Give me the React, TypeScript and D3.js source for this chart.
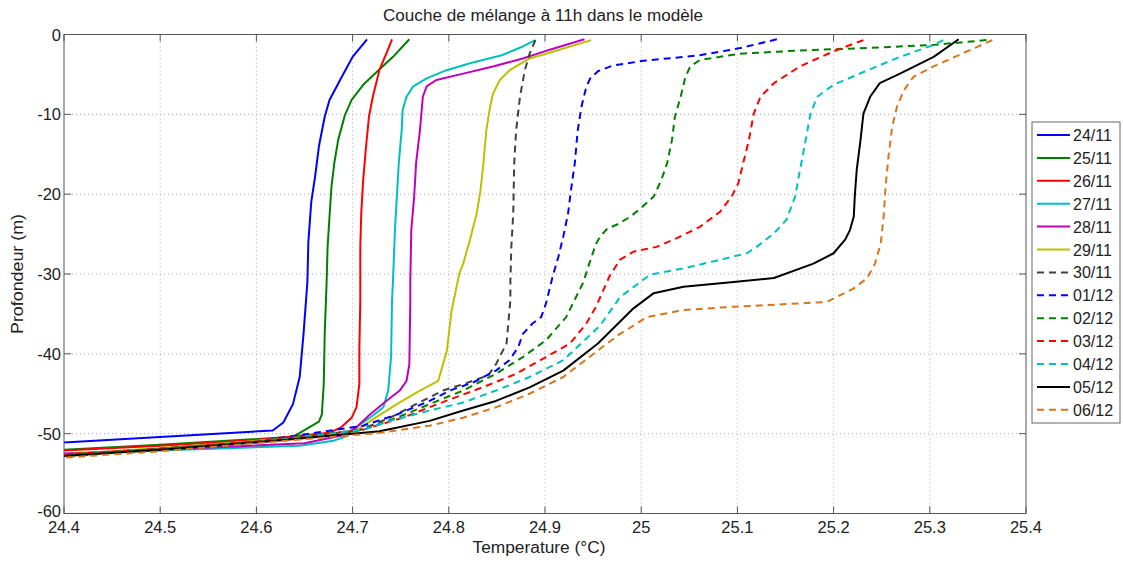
import React from "react";
import * as d3 from "d3";

const xTicks = [24.4, 24.5, 24.6, 24.7, 24.8, 24.9, 25, 25.1, 25.2, 25.3, 25.4];
const yTicks = [0, -10, -20, -30, -40, -50, -60];

const s2411 = [[24.715,-0.6],[24.700,-2.8],[24.687,-5.7],[24.676,-8.2],[24.671,-10.3],[24.665,-14],[24.661,-17.8],[24.657,-21],[24.654,-26],[24.653,-31],[24.649,-37.5],[24.645,-42.9],[24.638,-46.3],[24.628,-48.6],[24.617,-49.6],[24.4,-51.1]];
const s2511 = [[24.759,-0.6],[24.742,-2.8],[24.725,-4.7],[24.711,-6.3],[24.699,-8.2],[24.692,-10.1],[24.685,-13.2],[24.681,-16.1],[24.678,-19.1],[24.676,-22.8],[24.674,-26.6],[24.673,-31],[24.671,-37.5],[24.670,-43.8],[24.668,-47.6],[24.665,-48.5],[24.638,-50.4],[24.5,-51.4],[24.4,-52.0]];
const s2611 = [[24.741,-0.6],[24.735,-2.4],[24.728,-4.4],[24.721,-7.8],[24.717,-10.3],[24.714,-14],[24.711,-18.2],[24.709,-22.4],[24.708,-26.6],[24.708,-33.3],[24.707,-39.6],[24.707,-43.8],[24.704,-46.7],[24.699,-48],[24.688,-49.2],[24.676,-49.9],[24.6,-50.8],[24.5,-51.5],[24.4,-52.1]];
const s2711 = [[24.890,-0.7],[24.877,-1.5],[24.855,-2.6],[24.822,-3.6],[24.797,-4.5],[24.777,-5.5],[24.763,-6.5],[24.756,-7.8],[24.752,-9.5],[24.751,-12],[24.748,-16.1],[24.746,-20.3],[24.744,-24.5],[24.742,-30.8],[24.741,-33.3],[24.740,-40.4],[24.737,-44.6],[24.732,-46.7],[24.718,-48],[24.706,-49],[24.694,-50.3],[24.680,-50.9],[24.645,-51.5],[24.5,-52.1],[24.4,-52.6]];
const s2811 = [[24.941,-0.6],[24.905,-1.9],[24.877,-3],[24.846,-4],[24.815,-4.9],[24.787,-5.7],[24.777,-6.5],[24.773,-7.8],[24.770,-12],[24.766,-16.1],[24.764,-20.3],[24.761,-24.5],[24.760,-30.8],[24.760,-33.3],[24.759,-41.3],[24.756,-43.4],[24.749,-44.6],[24.735,-45.9],[24.718,-47.6],[24.704,-49.2],[24.690,-50.2],[24.65,-51.2],[24.5,-52.0],[24.4,-52.5]];
const s2911 = [[24.948,-0.7],[24.915,-1.9],[24.884,-3],[24.863,-4.5],[24.853,-5.7],[24.846,-7.4],[24.843,-9],[24.839,-12],[24.836,-16.1],[24.833,-19.5],[24.829,-22.4],[24.822,-25.7],[24.815,-28.7],[24.811,-29.9],[24.803,-34.5],[24.798,-39.6],[24.789,-43.4],[24.770,-44.6],[24.746,-46.3],[24.721,-48.2],[24.700,-49.9],[24.6,-50.9],[24.5,-51.8],[24.4,-52.6]];
const s3011 = [[24.890,-0.7],[24.884,-2.4],[24.879,-4.5],[24.874,-7.8],[24.870,-12],[24.868,-16.1],[24.867,-22.4],[24.865,-26.6],[24.864,-31],[24.864,-33.3],[24.860,-38.7],[24.849,-41.3],[24.841,-42.7],[24.815,-43.8],[24.794,-44.6],[24.766,-46.3],[24.739,-48],[24.704,-49.7],[24.6,-51.0],[24.5,-52.0],[24.4,-52.8]];
const s0112 = [[25.141,-0.6],[25.103,-1.7],[25.061,-2.6],[25.002,-3.3],[24.970,-3.9],[24.955,-4.6],[24.947,-5.5],[24.943,-6.5],[24.938,-9],[24.934,-12],[24.931,-16.1],[24.927,-19.5],[24.924,-22.4],[24.919,-25.3],[24.914,-27.8],[24.908,-30.3],[24.901,-33.7],[24.896,-35.4],[24.887,-36.2],[24.877,-37.5],[24.872,-39.2],[24.863,-40.8],[24.849,-42.1],[24.825,-43.6],[24.801,-44.6],[24.780,-45.9],[24.746,-47.6],[24.711,-49],[24.6,-51.0],[24.5,-51.9],[24.4,-52.7]];
const s0212 = [[25.359,-0.7],[25.304,-1.3],[25.235,-1.7],[25.165,-2.0],[25.103,-2.4],[25.061,-3.2],[25.051,-4.0],[25.046,-5.3],[25.041,-7.8],[25.035,-10.3],[25.032,-13.2],[25.027,-16.1],[25.021,-18.2],[25.013,-20.3],[25.001,-21.6],[24.989,-22.8],[24.975,-23.8],[24.965,-24.3],[24.958,-25.2],[24.953,-26.2],[24.946,-28.7],[24.940,-31],[24.922,-35.4],[24.901,-38.3],[24.877,-40.4],[24.849,-42.5],[24.815,-44.6],[24.780,-46.3],[24.746,-48],[24.711,-49.5],[24.6,-51.0],[24.5,-51.9],[24.4,-52.6]];
const s0312 = [[25.231,-0.7],[25.200,-2.1],[25.165,-4.0],[25.138,-6.1],[25.124,-7.8],[25.117,-9.9],[25.112,-13.2],[25.106,-16.1],[25.101,-18.6],[25.094,-20.3],[25.082,-22.2],[25.061,-24.1],[25.037,-25.5],[25.016,-26.6],[24.992,-27.2],[24.978,-28.2],[24.967,-30.3],[24.953,-34.1],[24.943,-36.2],[24.926,-38.7],[24.901,-40.4],[24.870,-42.5],[24.835,-44.2],[24.797,-45.9],[24.752,-48],[24.711,-49.5],[24.6,-51.0],[24.5,-51.9],[24.4,-52.6]];
const s0412 = [[25.314,-0.7],[25.304,-1.3],[25.269,-2.8],[25.235,-4.5],[25.200,-6.3],[25.183,-7.8],[25.176,-9.9],[25.171,-13.2],[25.165,-17],[25.160,-20.3],[25.151,-23.2],[25.138,-24.9],[25.120,-26.6],[25.110,-27.4],[25.079,-28.3],[25.044,-29.3],[25.009,-30.1],[24.978,-32.9],[24.957,-36.5],[24.919,-40.8],[24.884,-42.9],[24.849,-44.6],[24.815,-46.1],[24.780,-47.1],[24.739,-48.4],[24.711,-49.5],[24.6,-51.1],[24.5,-52.0],[24.4,-52.8]];
const s0512 = [[25.330,-0.6],[25.304,-2.8],[25.269,-4.9],[25.248,-6.1],[25.238,-7.8],[25.231,-9.9],[25.228,-13.2],[25.224,-17],[25.222,-20.3],[25.221,-22.8],[25.217,-24.5],[25.212,-25.7],[25.200,-27.4],[25.179,-28.7],[25.138,-30.5],[25.096,-31.0],[25.044,-31.6],[25.013,-32.4],[24.992,-34.3],[24.955,-38.7],[24.919,-42.1],[24.884,-44.2],[24.849,-45.9],[24.815,-47.1],[24.780,-48.4],[24.728,-49.7],[24.700,-50.0],[24.6,-51.1],[24.5,-52.0],[24.4,-52.8]];
const s0612 = [[25.365,-0.7],[25.339,-2.1],[25.304,-4.0],[25.283,-5.3],[25.273,-7],[25.266,-9],[25.261,-11.5],[25.257,-15.3],[25.254,-19.1],[25.252,-22.8],[25.249,-26.2],[25.243,-28.7],[25.235,-30.5],[25.221,-31.8],[25.193,-33.5],[25.131,-33.9],[25.096,-34.1],[25.044,-34.5],[25.006,-35.4],[24.978,-37.5],[24.957,-39.4],[24.919,-42.9],[24.884,-45],[24.849,-46.7],[24.815,-48],[24.780,-49],[24.728,-49.9],[24.6,-51.2],[24.5,-52.2],[24.4,-53.0]];

const labels = ["24/11","25/11","26/11","27/11","28/11","29/11","30/11","01/12","02/12","03/12","04/12","05/12","06/12"];
const colors = ["#0000ff","#008000","#ff0000","#00bfbf","#bf00bf","#bfbf00","#404040","#0000ff","#008000","#ff0000","#00bfbf","#000000","#d9761a"];
const dashed = [false,false,false,false,false,false,true,true,true,true,true,false,true];
const seriesData = [s2411,s2511,s2611,s2711,s2811,s2911,s3011,s0112,s0212,s0312,s0412,s0512,s0612];

const W = 1123, H = 563;
const L = 64, R = 1026, T = 34.5, B = 513.5;
const FONT = "'Liberation Sans', Arial, Helvetica, sans-serif";

export default function App() {
  const x = d3.scaleLinear().domain([24.4, 25.4]).range([L, R]);
  const y = d3.scaleLinear().domain([-60, 0]).range([B, T]);
  const line = d3.line<number[]>().x(d => x(d[0])).y(d => y(d[1]));
  const dash = "7,5";
  const legX = 1032, legY = 122, legW = 88, legH = 301;
  const legStep = 22.9, legFirst = 135;
  return (
    <svg width={W} height={H} style={{ position: "absolute", left: 0, top: 0, background: "#fff" }} fontFamily={FONT}>
      <defs>
        <clipPath id="plot"><rect x={L} y={T} width={R - L} height={B - T} /></clipPath>
      </defs>
      {xTicks.slice(1, -1).map(t => (
        <line key={"gx" + t} x1={x(t)} x2={x(t)} y1={T} y2={B} stroke="#aaa" strokeWidth={1} strokeDasharray="1,3" />
      ))}
      {yTicks.slice(1, -1).map(t => (
        <line key={"gy" + t} x1={L} x2={R} y1={y(t)} y2={y(t)} stroke="#aaa" strokeWidth={1} strokeDasharray="1,3" />
      ))}
      <g clipPath="url(#plot)">
        {seriesData.map((s, i) => (
          <path key={labels[i]} d={line(s) || ""} fill="none" stroke={colors[i]} strokeWidth={2}
            strokeDasharray={dashed[i] ? dash : undefined} strokeLinejoin="round" />
        ))}
      </g>
      <rect x={L} y={T} width={R - L} height={B - T} fill="none" stroke="#555" strokeWidth={1} />
      {xTicks.map(t => (
        <g key={"tx" + t}>
          <line x1={x(t)} x2={x(t)} y1={B} y2={B - 7} stroke="#555" />
          <line x1={x(t)} x2={x(t)} y1={T} y2={T + 7} stroke="#555" />
          <text x={x(t)} y={533} textAnchor="middle" fontSize={16.5} fill="#222">{String(t)}</text>
        </g>
      ))}
      {yTicks.map(t => (
        <g key={"ty" + t}>
          <line x1={L} x2={L + 7} y1={y(t)} y2={y(t)} stroke="#555" />
          <line x1={R} x2={R - 7} y1={y(t)} y2={y(t)} stroke="#555" />
          <text x={61} y={y(t) + (t === -60 ? 3.5 : 6)} textAnchor="end" fontSize={16.5} fill="#222">{String(t)}</text>
        </g>
      ))}
      <text x={543} y={21} textAnchor="middle" fontSize={16} textLength={320} lengthAdjust="spacingAndGlyphs" fill="#222">Couche de mélange à 11h dans le modèle</text>
      <text x={539} y={553} textAnchor="middle" fontSize={16} textLength={133} lengthAdjust="spacingAndGlyphs" fill="#222">Temperature (°C)</text>
      <text transform={`translate(23,274) rotate(-90)`} textAnchor="middle" fontSize={16} textLength={120} lengthAdjust="spacingAndGlyphs" fill="#222">Profondeur (m)</text>
      <rect x={legX} y={legY} width={legW} height={legH} fill="#fff" stroke="#666" strokeWidth={1} />
      {labels.map((lab, i) => {
        const yy = legFirst + i * legStep;
        return (
          <g key={"lg" + lab}>
            <line x1={1037} x2={1070} y1={yy} y2={yy} stroke={colors[i]} strokeWidth={2}
              strokeDasharray={dashed[i] ? "7,5" : undefined} />
            <text x={1073} y={yy + 6} fontSize={16} fill="#222">{lab}</text>
          </g>
        );
      })}
    </svg>
  );
}
